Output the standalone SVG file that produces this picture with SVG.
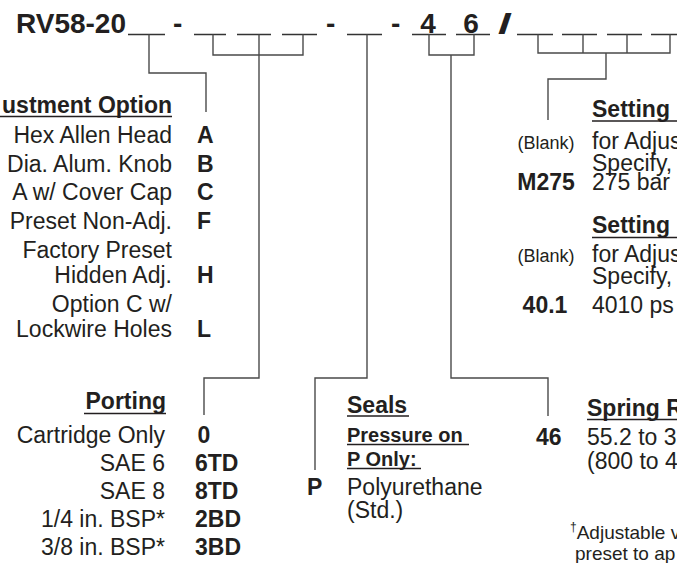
<svg xmlns="http://www.w3.org/2000/svg" width="677" height="563" viewBox="0 0 677 563">
<style>
text{font-family:"Liberation Sans",Arial,Helvetica,sans-serif;fill:#231f20}
.t{font-size:28px;font-weight:bold}
.b{font-size:23px}
.k{font-size:23px;font-weight:bold}
.h{font-size:23px;font-weight:bold}
.s{font-size:20px;font-weight:bold}
.sm{font-size:18px}
.fn{font-size:19px}
.r{text-anchor:end}
.m{text-anchor:middle}
.ul{stroke:#231f20;stroke-width:1.5;fill:none}
.bl{stroke:#333;stroke-width:1.5;fill:none}
.c{stroke:#4a4a4a;stroke-width:1.4;fill:none}
</style>
<rect width="677" height="563" fill="#fff"/>
<g id="title">
<text class="t" x="16" y="33">RV58-20</text>
<text class="t" x="173" y="33">-</text>
<text class="t" x="326" y="33">-</text>
<text class="t" x="391" y="33">-</text>
<text class="t m" x="428" y="33">4</text>
<text class="t m" x="471" y="33">6</text>
<text class="t m" x="505" y="33" textLength="14" lengthAdjust="spacingAndGlyphs">/</text>
<path class="bl" d="M128,34.5H165M194,34.5H226M237,34.5H271M282,34.5H317M347,34.5H382M412,34.5H446M456,34.5H490M517,34.5H553M562,34.5H597M607,34.5H642M651,34.5H677"/>
</g>
<g id="connectors">
<path class="c" d="M149,34.5V73H206V112"/>
<path class="c" d="M213,34.5V55H303V34.5M259,34.5V378H204V415"/>
<path class="c" d="M367,34.5V378H315V470"/>
<path class="c" d="M429,34.5V55H474V34.5M451,55V378H548V416"/>
<path class="c" d="M538,34.5V53H670V34.5M583,34.5V53M627,34.5V53M606,53V79H548V120"/>
</g>
<g id="adjustment">
<text class="h r" x="172" y="113">ustment Option</text>
<path class="ul" d="M0,116.5H172"/>
<text class="b r" x="172" y="143">Hex Allen Head</text>
<text class="b r" x="172" y="172">Dia. Alum. Knob</text>
<text class="b r" x="172" y="200">A w/ Cover Cap</text>
<text class="b r" x="172" y="229">Preset Non-Adj.</text>
<text class="b r" x="172" y="258">Factory Preset</text>
<text class="b r" x="172" y="283">Hidden Adj.</text>
<text class="b r" x="172" y="312">Option C w/</text>
<text class="b r" x="172" y="337">Lockwire Holes</text>
<text class="k" x="197" y="143">A</text>
<text class="k" x="197" y="172">B</text>
<text class="k" x="197" y="200">C</text>
<text class="k" x="197" y="229">F</text>
<text class="k" x="197" y="283">H</text>
<text class="k" x="197" y="337">L</text>
</g>
<g id="porting">
<text class="h r" x="166" y="409">Porting</text>
<path class="ul" d="M84,413.5H166"/>
<text class="b r" x="165" y="443">Cartridge Only</text>
<text class="b r" x="165" y="471">SAE 6</text>
<text class="b r" x="165" y="499">SAE 8</text>
<text class="b r" x="165" y="527">1/4 in. BSP*</text>
<text class="b r" x="165" y="555">3/8 in. BSP*</text>
<text class="k m" x="204" y="443">0</text>
<text class="k" x="195" y="471">6TD</text>
<text class="k" x="195" y="499">8TD</text>
<text class="k" x="195" y="527">2BD</text>
<text class="k" x="195" y="555">3BD</text>
</g>
<g id="seals">
<text class="h" x="347" y="413">Seals</text>
<path class="ul" d="M347,416H409"/>
<text class="s" x="347" y="442">Pressure on</text>
<path class="ul" d="M347,444.5H469"/>
<text class="s" x="347" y="466">P Only:</text>
<path class="ul" d="M347,468.5H421"/>
<text class="k" x="307" y="495">P</text>
<text class="b" x="347" y="495">Polyurethane</text>
<text class="b" x="347" y="518">(Std.)</text>
</g>
<g id="spring">
<text class="h" x="587" y="416">Spring R</text>
<path class="ul" d="M587,419.5H677"/>
<text class="k" x="536" y="445">46</text>
<text class="b" x="587" y="445">55.2 to 3</text>
<text class="b" x="587" y="469">(800 to 4</text>
<text class="fn" x="570" y="539"><tspan font-size="12" dy="-8">†</tspan><tspan dy="8">Adjustable v</tspan></text>
<text class="fn" x="575" y="560">preset to ap</text>
</g>
<g id="setting">
<text class="h" x="592" y="116.5">Setting</text>
<path class="ul" d="M592,121H677"/>
<text class="sm m" x="546" y="149">(Blank)</text>
<text class="b" x="592" y="149">for Adjus</text>
<text class="b" x="592" y="171">Specify,</text>
<text class="k m" x="546" y="190">M275</text>
<text class="b" x="592" y="190">275 bar</text>
<text class="h" x="592" y="233">Setting</text>
<path class="ul" d="M592,237.5H677"/>
<text class="sm m" x="546" y="262">(Blank)</text>
<text class="b" x="592" y="262">for Adjus</text>
<text class="b" x="592" y="284">Specify,</text>
<text class="k m" x="545" y="313">40.1</text>
<text class="b" x="592" y="313">4010 ps</text>
</g>
</svg>
